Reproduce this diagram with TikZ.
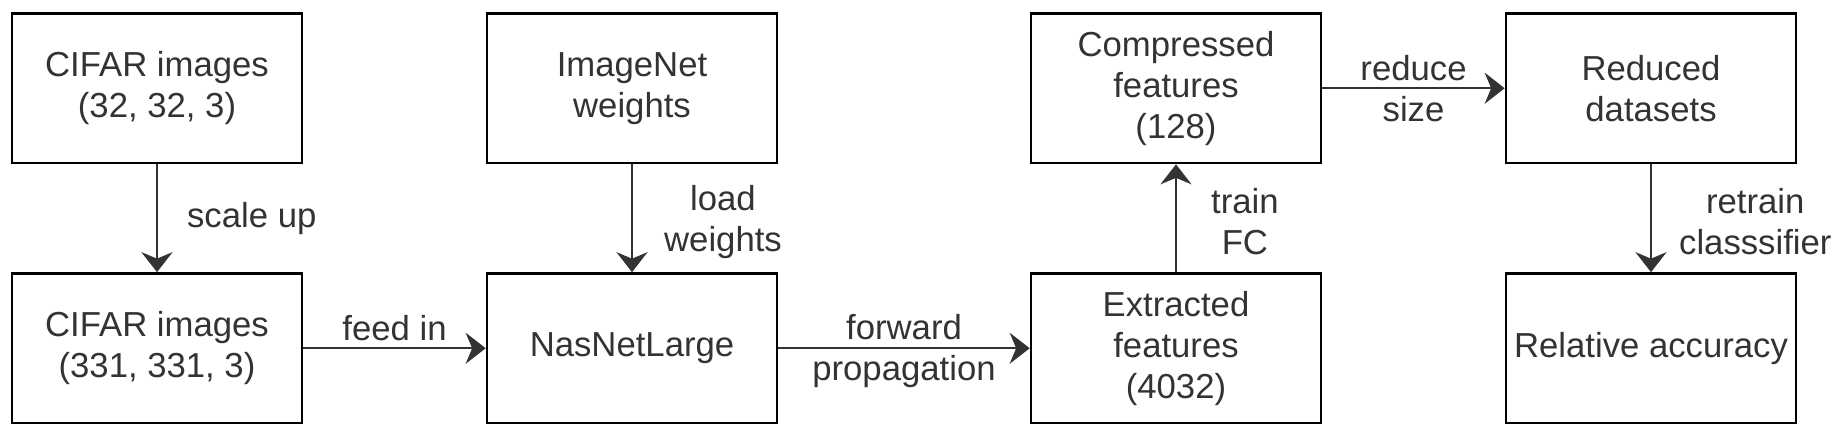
\documentclass[tikz,border=0pt]{standalone}
\usepackage{fontspec}
\setmainfont{Liberation Sans}
\usetikzlibrary{arrows.meta}
\definecolor{inkgray}{RGB}{51,51,51}

\begin{document}
\begin{tikzpicture}[
  font=\fontsize{19.75pt}{23.3pt}\selectfont,
  box/.style={draw=black,line width=1.5pt,minimum width=5.8cm,minimum height=2.99cm,align=center,text=inkgray},
  flow/.style={draw=inkgray,line width=1.3pt,-{Stealth[length=0.4cm,width=0.62cm,inset=0.13cm]}},
  lbl/.style={text=inkgray,align=center,inner sep=0pt}]
\useasboundingbox (0,0) rectangle (36.76,8.74);
% top row
\node[box] (cifarsmall) at (3.14,6.975) {CIFAR images\\(32, 32, 3)};
\node[box] (imagenet) at (12.64,6.975) {ImageNet\\weights};
\node[box] (compressed) at (23.52,6.975) {Compressed\\features\\(128)};
\node[box] (reduced) at (33.02,6.975) {Reduced\\datasets};
% bottom row
\node[box] (cifarlarge) at (3.14,1.775) {CIFAR images\\(331, 331, 3)};
\node[box] (nasnet) at (12.64,1.775) {NasNetLarge};
\node[box] (extracted) at (23.52,1.775) {Extracted\\features\\(4032)};
\node[box] (accuracy) at (33.02,1.775) {Relative accuracy};
% arrows
\draw[flow] (cifarsmall) -- node[lbl,right=0.58cm] {scale up} (cifarlarge);
\draw[flow] (imagenet) -- node[lbl,right=0.62cm,yshift=-0.08cm] {load\\weights} (nasnet);
\draw[flow] (cifarlarge) -- node[lbl,above=0.13cm] {feed in} (nasnet);
\draw[flow] (nasnet) -- node[lbl,yshift=-0.05cm] {forward\\propagation} (extracted);
\draw[flow] (extracted) -- node[lbl,right=0.68cm,yshift=-0.06cm] {train\\FC} (compressed);
\draw[flow] (compressed) -- node[lbl] {reduce\\size} (reduced);
\draw[flow] (reduced) -- node[lbl,right=0.54cm,yshift=-0.06cm] {retrain\\classsifier} (accuracy);
\end{tikzpicture}
\end{document}
